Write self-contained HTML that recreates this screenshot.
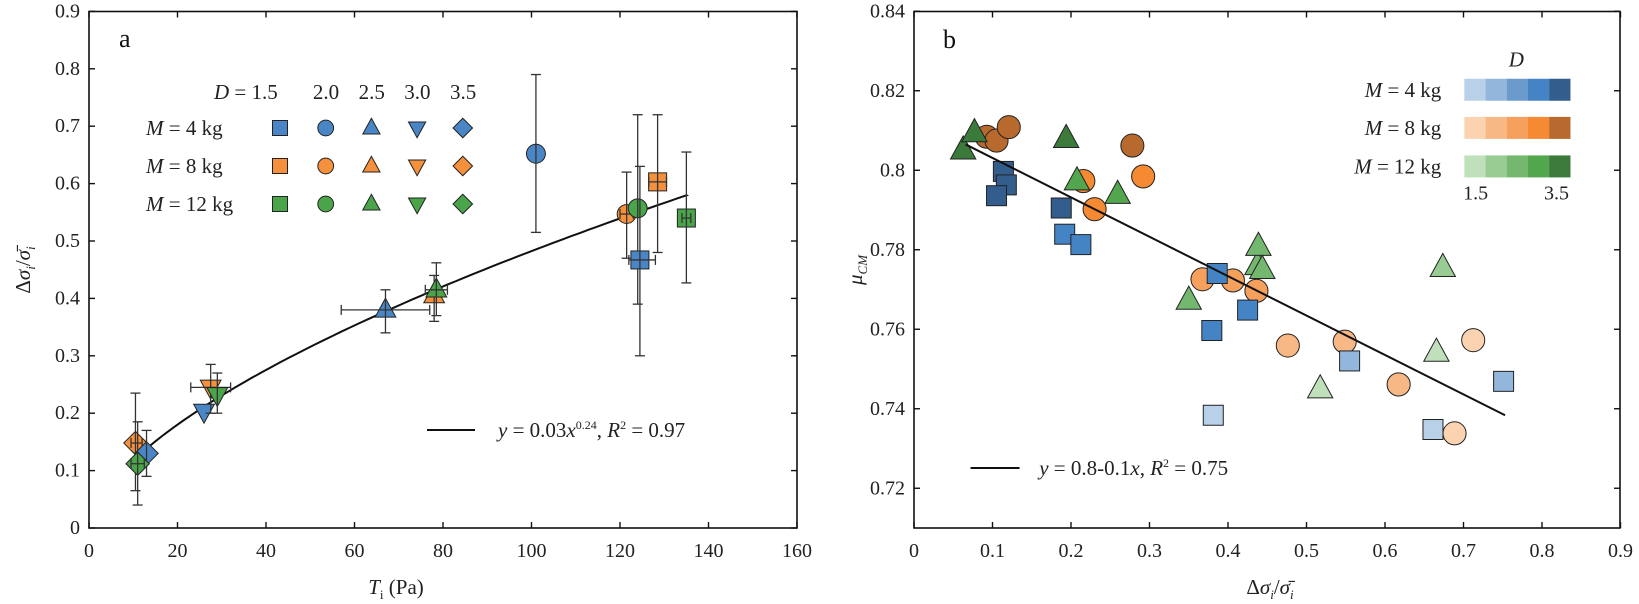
<!DOCTYPE html>
<html><head><meta charset="utf-8"><style>
html,body{margin:0;padding:0;background:#fff;}
svg{display:block;}
svg text{font-family:"Liberation Serif","Times New Roman","DejaVu Serif",serif;}
</style></head><body>
<svg id="s" width="1639" height="604" viewBox="0 0 1639 604" xmlns="http://www.w3.org/2000/svg" font-family="Liberation Serif, Times New Roman, DejaVu Serif, serif"></svg>
<script>
const S=document.getElementById('s');let h='';
function el(s){h+=s;}
const B='#4a86c5',O='#f5913d',G='#4aa54a';
function marker(shape,x,y,r,fill){
 const st=`fill="${fill}" stroke="#222" stroke-width="1"`;
 if(shape=='s')return `<rect x="${x-r}" y="${y-r}" width="${2*r}" height="${2*r}" ${st}/>`;
 if(shape=='c')return `<circle cx="${x}" cy="${y}" r="${r*1.05}" ${st}/>`;
 if(shape=='t')return `<polygon points="${x},${y-r*1.3} ${x+r*1.15},${y+r*0.8} ${x-r*1.15},${y+r*0.8}" ${st}/>`;
 if(shape=='v')return `<polygon points="${x},${y+r*1.3} ${x+r*1.15},${y-r*0.8} ${x-r*1.15},${y-r*0.8}" ${st}/>`;
 if(shape=='d')return `<polygon points="${x},${y-r*1.3} ${x+r*1.3},${y} ${x},${y+r*1.3} ${x-r*1.3},${y}" ${st}/>`;
}
const F='font-family="Liberation Serif, Times New Roman, DejaVu Serif, serif"';
// ---------- Panel a ----------
const ax=v=>89+v/20*88.5, ay=v=>528-v*574;
el(`<rect x="89" y="11.5" width="708" height="516.5" fill="none" stroke="#111" stroke-width="1.6"/>`);
for(let i=0;i<=8;i++){const x=ax(i*20);el(`<line x1="${x}" y1="528" x2="${x}" y2="522" stroke="#111" stroke-width="1.4"/><line x1="${x}" y1="11.5" x2="${x}" y2="17.5" stroke="#111" stroke-width="1.4"/>`);
 el(`<text ${F} x="${x}" y="557" font-size="20" text-anchor="middle" fill="#222">${i*20}</text>`);}
for(let i=0;i<=9;i++){const y=ay(i/10);el(`<line x1="89" y1="${y}" x2="95" y2="${y}" stroke="#111" stroke-width="1.4"/><line x1="797" y1="${y}" x2="791" y2="${y}" stroke="#111" stroke-width="1.4"/>`);
 el(`<text ${F} x="80" y="${y+6}" font-size="20" text-anchor="end" fill="#222">${i==0?'0':(i/10).toFixed(1)}</text>`);}
el(`<text ${F} x="119" y="47" font-size="26" fill="#111">a</text>`);
el(`<text ${F} x="396" y="594" font-size="21" text-anchor="middle" fill="#222"><tspan font-style="italic">T</tspan><tspan font-size="13" dy="5">i</tspan><tspan dy="-5"> (Pa)</tspan></text>`);
el(`<text ${F} transform="translate(30,270) rotate(-90)" font-size="21" text-anchor="middle" fill="#222">Δ<tspan font-style="italic">σ</tspan><tspan font-size="13" dy="5" font-style="italic">i</tspan><tspan dy="-5">/</tspan><tspan font-style="italic">σ̄</tspan><tspan font-size="13" dy="5" font-style="italic">i</tspan></text>`);
let p='';for(let t=11;t<=135;t+=2){p+=(p?'L':'M')+ax(t).toFixed(1)+','+ay(0.0288*Math.pow(t,0.612)).toFixed(1);}
p+='L'+ax(135)+','+ay(0.0288*Math.pow(135,0.612));
el(`<path d="${p}" fill="none" stroke="#111" stroke-width="2"/>`);
function eb(x,y,x1,x2,y1,y2){let s='';
 if(y1!=null)s+=`<line x1="${ax(x)}" y1="${ay(y1)}" x2="${ax(x)}" y2="${ay(y2)}" stroke="#333" stroke-width="1.3"/><line x1="${ax(x)-5}" y1="${ay(y1)}" x2="${ax(x)+5}" y2="${ay(y1)}" stroke="#333" stroke-width="1.3"/><line x1="${ax(x)-5}" y1="${ay(y2)}" x2="${ax(x)+5}" y2="${ay(y2)}" stroke="#333" stroke-width="1.3"/>`;
 if(x1!=null)s+=`<line x1="${ax(x1)}" y1="${ay(y)}" x2="${ax(x2)}" y2="${ay(y)}" stroke="#333" stroke-width="1.3"/><line x1="${ax(x1)}" y1="${ay(y)-5}" x2="${ax(x1)}" y2="${ay(y)+5}" stroke="#333" stroke-width="1.3"/><line x1="${ax(x2)}" y1="${ay(y)-5}" x2="${ax(x2)}" y2="${ay(y)+5}" stroke="#333" stroke-width="1.3"/>`;
 return s;}
const A=[
['c',B,101,0.652,null,null,0.515,0.79],
['s',O,128.5,0.603,126.5,130.5,0.48,0.72],
['c',O,121.5,0.547,120,123,0.47,0.62],
['c',G,124,0.557,null,null,0.39,0.72],
['s',B,124.5,0.467,122,128,0.30,0.63],
['s',G,135,0.54,134,136,0.427,0.655],
['t',B,67,0.38,57,77,0.34,0.415],
['t',O,78,0.405,null,null,0.36,0.44],
['t',G,78.5,0.415,76,81,0.37,0.462],
['v',B,26,0.203,null,null,null,null],
['v',O,27.5,0.245,23,32,0.2,0.285],
['v',G,29,0.232,null,null,0.2,0.27],
['d',O,10.5,0.148,9.5,12,0.065,0.235],
['d',B,13,0.13,null,null,0.09,0.17],
['d',G,11,0.112,9.5,12.5,0.04,0.185]];
A.forEach(d=>{el(marker(d[0],ax(d[2]),ay(d[3]),9,d[1]));el(eb(d[2],d[3],d[4],d[5],d[6],d[7]));});
el(`<text ${F} x="214" y="99" font-size="21" fill="#222"><tspan font-style="italic">D</tspan> = 1.5</text>`);
['2.0','2.5','3.0','3.5'].forEach((t,i)=>el(`<text ${F} x="${326+i*45.7}" y="99" font-size="21" text-anchor="middle" fill="#222">${t}</text>`));
[['4',B,128],['8',O,166],['12',G,204]].forEach(r=>{
 el(`<text ${F} x="146" y="${r[2]+7}" font-size="21" fill="#222"><tspan font-style="italic">M</tspan> = ${r[0]} kg</text>`);
 ['s','c','t','v','d'].forEach((s,i)=>el(marker(s,280+i*45.7,r[2],7.5,r[1])));});
el(`<line x1="427" y1="430" x2="475" y2="430" stroke="#111" stroke-width="2"/>`);
el(`<text ${F} x="498" y="437" font-size="21" fill="#222"><tspan font-style="italic">y</tspan> = 0.03<tspan font-style="italic">x</tspan><tspan font-size="12" dy="-8">0.24</tspan><tspan dy="8">, </tspan><tspan font-style="italic">R</tspan><tspan font-size="12" dy="-8">2</tspan><tspan dy="8"> = 0.97</tspan></text>`);
// ---------- Panel b ----------
const bx=v=>914+v*785, by=v=>528-(v-0.71)*3975;
const zx=z=>870+z*0.4904, zy=z=>z/2.596;
el(`<rect x="914" y="11.5" width="706" height="516.5" fill="none" stroke="#111" stroke-width="1.6"/>`);
for(let i=0;i<=9;i++){const x=bx(i/10);el(`<line x1="${x}" y1="528" x2="${x}" y2="522" stroke="#111" stroke-width="1.4"/><line x1="${x}" y1="11.5" x2="${x}" y2="17.5" stroke="#111" stroke-width="1.4"/>`);
 el(`<text ${F} x="${x}" y="557" font-size="20" text-anchor="middle" fill="#222">${i==0?'0':(i/10).toFixed(1)}</text>`);}
for(let i=0;i<=6;i++){const v=0.72+i*0.02,y=by(v);el(`<line x1="914" y1="${y}" x2="920" y2="${y}" stroke="#111" stroke-width="1.4"/><line x1="1620" y1="${y}" x2="1614" y2="${y}" stroke="#111" stroke-width="1.4"/>`);
 el(`<text ${F} x="905" y="${y+6}" font-size="20" text-anchor="end" fill="#222">${Math.abs(v-0.8)<1e-6?'0.8':v.toFixed(2)}</text>`);}
el(`<text ${F} x="943" y="48" font-size="26" fill="#111">b</text>`);
el(`<text ${F} transform="translate(862,270) rotate(-90)" font-size="21" text-anchor="middle" fill="#222"><tspan font-style="italic">μ</tspan><tspan font-size="13" dy="5" font-style="italic">CM</tspan></text>`);
el(`<text ${F} x="1270" y="594" font-size="21" text-anchor="middle" fill="#222">Δ<tspan font-style="italic">σ</tspan><tspan font-size="13" dy="5" font-style="italic">i</tspan><tspan dy="-5">/</tspan><tspan font-style="italic">σ̄</tspan><tspan font-size="13" dy="5" font-style="italic">i</tspan></text>`);
const BB=['#b8d0e8','#92b6dc','#6b9bcc','#4584c4','#335d8c'],OO=['#fbd3b0','#f8b886','#f6a05e','#f58a33','#b8692e'],GG=['#bfe0bb','#98cc93','#73b86e','#52a64d','#3c7a3b'];
const P=[
['c',OO[4],238,355],['c',OO[4],258,365],['c',OO[4],283,330],['c',OO[4],535,378],
['c',OO[3],435,470],['c',OO[3],458,543],['c',OO[3],557,458],
['c',OO[2],678,725],['c',OO[2],740,728],['c',OO[2],788,755],
['c',OO[1],852,897],['c',OO[1],968,887],['c',OO[1],1078,998],
['c',OO[0],1230,883],['c',OO[0],1192,1125],
['s',BB[4],272,445],['s',BB[4],278,480],['s',BB[4],258,508],['s',BB[4],390,540],
['s',BB[3],708,710],['s',BB[3],397,608],['s',BB[3],430,635],['s',BB[3],770,805],['s',BB[3],697,858],
['s',BB[1],978,937],['s',BB[1],1292,990],
['s',BB[0],700,1078],['s',BB[0],1148,1115],
['t',GG[4],190,390],['t',GG[4],213,345],['t',GG[4],400,360],
['t',GG[3],422,470],['t',GG[3],505,505],['t',GG[2],650,780],
['t',GG[2],790,690],['t',GG[2],792,640],['t',GG[2],800,700],
['t',GG[1],1168,695],['t',GG[0],1155,915],['t',GG[0],918,1010]];
P.forEach(d=>el(marker(d[0],zx(d[2]),zy(d[3]),d[0]=='s'?10:11,d[1])));
el(`<line x1="${zx(195)}" y1="${zy(375)}" x2="${zx(1295)}" y2="${zy(1078)}" stroke="#111" stroke-width="2"/>`);
el(`<line x1="${zx(205)}" y1="${zy(1215)}" x2="${zx(305)}" y2="${zy(1215)}" stroke="#111" stroke-width="2"/>`);
el(`<text ${F} x="${zx(345)}" y="${zy(1215)+7}" font-size="21" fill="#222"><tspan font-style="italic">y</tspan> = 0.8-0.1<tspan font-style="italic">x</tspan>, <tspan font-style="italic">R</tspan><tspan font-size="12" dy="-8">2</tspan><tspan dy="8"> = 0.75</tspan></text>`);
el(`<text ${F} x="${zx(1318)}" y="${zy(155)+7}" font-size="21" font-style="italic" text-anchor="middle" fill="#222">D</text>`);
[['4',BB,233],['8',OO,332],['12',GG,432]].forEach(r=>{
 el(`<text ${F} x="${zx(1165)}" y="${zy(r[2])+7}" font-size="21" text-anchor="end" fill="#222"><tspan font-style="italic">M</tspan> = ${r[0]} kg</text>`);
 r[1].forEach((c,i)=>el(`<rect x="${zx(1212)+i*21.2}" y="${zy(r[2])-11}" width="21.3" height="22" fill="${c}"/>`));});
el(`<text ${F} x="${zx(1235)}" y="${zy(500)+7}" font-size="20" text-anchor="middle" fill="#222">1.5</text>`);
el(`<text ${F} x="${zx(1400)}" y="${zy(500)+7}" font-size="20" text-anchor="middle" fill="#222">3.5</text>`);
S.innerHTML=h;
</script>
</body></html>
